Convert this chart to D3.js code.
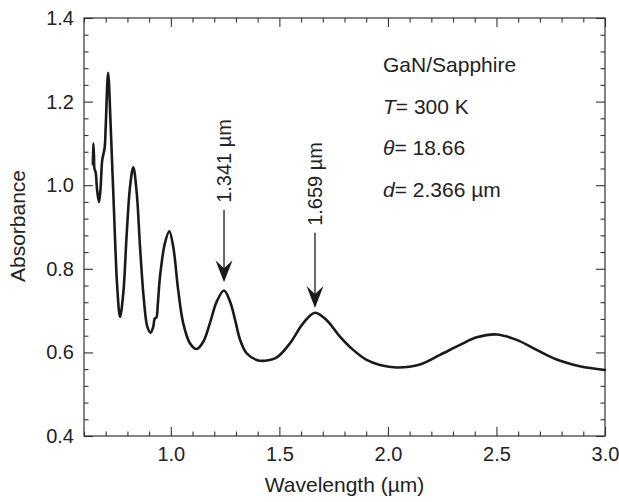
<!DOCTYPE html>
<html>
<head>
<meta charset="utf-8">
<script src="https://cdn.jsdelivr.net/npm/d3@7"></script>
<style>
  body { margin: 0; background: #fff; overflow: hidden; }
  svg { display: block; }
  text { font-family: "Liberation Sans", Arial, Helvetica, sans-serif; fill: #222; }
</style>
</head>
<body>
<div id="chart"></div>
<script>
// wavelength (um) and absorbance
var wavelength = [0.641, 0.643, 0.646, 0.648, 0.654, 0.660, 0.669, 0.676, 0.684, 0.695, 0.700, 0.711,
  0.723, 0.738, 0.753, 0.766, 0.781, 0.797, 0.812, 0.827, 0.843, 0.858, 0.876, 0.892, 0.907,
  0.919, 0.925, 0.929, 0.934, 0.940, 0.950, 0.973, 0.993, 1.011, 1.034, 1.057, 1.088, 1.119,
  1.150, 1.180, 1.211, 1.245, 1.273, 1.296, 1.319, 1.349, 1.395, 1.434, 1.488, 1.549, 1.610,
  1.664, 1.718, 1.779, 1.840, 1.902, 1.963, 2.040, 2.148, 2.240, 2.332, 2.409, 2.501, 2.593,
  2.685, 2.777, 2.884, 3.000];
var absorbance = [1.05, 1.10, 1.07, 1.04, 1.03, 0.99, 0.96, 0.99, 1.06, 1.089, 1.14, 1.269,
  1.14, 0.94, 0.757, 0.685, 0.742, 0.886, 0.996, 1.043, 0.981, 0.853, 0.725, 0.661, 0.647,
  0.661, 0.680, 0.682, 0.684, 0.715, 0.781, 0.862, 0.890, 0.853, 0.749, 0.670, 0.622, 0.608,
  0.626, 0.670, 0.721, 0.748, 0.721, 0.678, 0.630, 0.598, 0.582, 0.580, 0.588, 0.622, 0.670,
  0.695, 0.677, 0.638, 0.606, 0.582, 0.570, 0.564, 0.571, 0.594, 0.618, 0.636, 0.643, 0.630,
  0.606, 0.583, 0.567, 0.558];

var xMajor = [1.0, 1.5, 2.0, 2.5, 3.0];
var xMinor = [0.6, 0.7, 0.8, 0.9, 1.1, 1.2, 1.3, 1.4, 1.6, 1.7, 1.8, 1.9, 2.1, 2.2, 2.3, 2.4, 2.6, 2.7, 2.8, 2.9];
var yMajor = [0.4, 0.6, 0.8, 1.0, 1.2, 1.4];
var yMinor = [0.44, 0.48, 0.52, 0.56, 0.64, 0.68, 0.72, 0.76, 0.84, 0.88, 0.92, 0.96,
  1.04, 1.08, 1.12, 1.16, 1.24, 1.28, 1.32, 1.36];

// peak arrows: x, arrow tip, arrow tail, label
var arrowX = [1.245, 1.664];
var arrowTip = [0.768, 0.706];
var arrowTail = [0.941, 0.886];
var arrowLabel = ["1.341 \u00b5m", "1.659 \u00b5m"];

var infoLines = [
  [["GaN/Sapphire", false]],
  [["T", true], ["= 300 K", false]],
  [["\u03b8", true], ["= 18.66", false]],
  [["d", true], ["= 2.366 \u00b5m", false]]
];

var width = 619, height = 502,
  margin = {top: 18, right: 14, bottom: 66, left: 84},
  innerWidth = width - margin.left - margin.right,
  innerHeight = height - margin.top - margin.bottom;

var xScale = d3.scaleLinear().domain([0.6, 3.0]).range([0, innerWidth]);
var yScale = d3.scaleLinear().domain([0.4, 1.4]).range([innerHeight, 0]);

var svg = d3.select("#chart").append("svg")
  .attr("width", width)
  .attr("height", height);

var g = svg.append("g")
  .attr("transform", "translate(" + margin.left + "," + margin.top + ")");

var fmt = d3.format(".1f");
var tickFont = 20, labelFont = 21;

function styleAxis(sel) {
  sel.select(".domain").remove();
  sel.selectAll("line").attr("stroke", "#333").attr("stroke-width", 1.1);
  sel.selectAll("text").style("font-size", tickFont + "px").attr("fill", "#222");
}

// bottom axis
g.append("g").attr("transform", "translate(0," + innerHeight + ")")
  .call(d3.axisBottom(xScale).tickValues(xMajor).tickSize(-9).tickPadding(11).tickFormat(fmt))
  .call(styleAxis);
g.append("g").attr("transform", "translate(0," + innerHeight + ")")
  .call(d3.axisBottom(xScale).tickValues(xMinor).tickSize(-4.5).tickFormat(""))
  .call(styleAxis);
// top axis
g.append("g")
  .call(d3.axisTop(xScale).tickValues(xMajor).tickSize(-9).tickFormat(""))
  .call(styleAxis);
g.append("g")
  .call(d3.axisTop(xScale).tickValues(xMinor).tickSize(-4.5).tickFormat(""))
  .call(styleAxis);
// left axis
g.append("g")
  .call(d3.axisLeft(yScale).tickValues(yMajor).tickSize(-9).tickPadding(10).tickFormat(fmt))
  .call(styleAxis);
g.append("g")
  .call(d3.axisLeft(yScale).tickValues(yMinor).tickSize(-4.5).tickFormat(""))
  .call(styleAxis);
// right axis
g.append("g").attr("transform", "translate(" + innerWidth + ",0)")
  .call(d3.axisRight(yScale).tickValues(yMajor).tickSize(-9).tickFormat(""))
  .call(styleAxis);
g.append("g").attr("transform", "translate(" + innerWidth + ",0)")
  .call(d3.axisRight(yScale).tickValues(yMinor).tickSize(-4.5).tickFormat(""))
  .call(styleAxis);

// frame
g.append("rect")
  .attr("width", innerWidth)
  .attr("height", innerHeight)
  .attr("fill", "none")
  .attr("stroke", "#333")
  .attr("stroke-width", 1.2);

// curve
var data = wavelength.map(function(d, i) { return [d, absorbance[i]]; });
var line = d3.line()
  .x(function(d) { return xScale(d[0]); })
  .y(function(d) { return yScale(d[1]); })
  .curve(d3.curveCatmullRom.alpha(0.5));

g.append("path")
  .datum(data)
  .attr("fill", "none")
  .attr("stroke", "#1a1a1a")
  .attr("stroke-width", 2.6)
  .attr("stroke-linejoin", "round")
  .attr("stroke-linecap", "round")
  .attr("d", line);

// arrows
arrowX.forEach(function(x, i) {
  var px = xScale(x), tip = yScale(arrowTip[i]), tail = yScale(arrowTail[i]);
  g.append("line")
    .attr("x1", px).attr("x2", px)
    .attr("y1", tail).attr("y2", tip - 10)
    .attr("stroke", "#1a1a1a")
    .attr("stroke-width", 1.3);
  g.append("path")
    .attr("d", "M" + px + "," + tip + "L" + (px - 8.5) + "," + (tip - 22) +
      "L" + px + "," + (tip - 14) + "L" + (px + 8.5) + "," + (tip - 22) + "Z")
    .attr("fill", "#1a1a1a");
  g.append("text")
    .attr("transform", "translate(" + px + "," + (tail - 7) + ") rotate(-90)")
    .attr("dy", "0.36em")
    .style("font-size", tickFont + "px")
    .text(arrowLabel[i]);
});

// info block
var info = g.append("g").attr("transform", "translate(" + (383 - margin.left) + "," + (72 - margin.top) + ")");
infoLines.forEach(function(parts, i) {
  var t = info.append("text")
    .attr("y", i * 41.5)
    .style("font-size", labelFont + "px");
  parts.forEach(function(p) {
    t.append("tspan")
      .style("font-style", p[1] ? "italic" : "normal")
      .text(p[0]);
  });
});

// axis labels
svg.append("text")
  .attr("x", margin.left + innerWidth / 2)
  .attr("y", 492)
  .attr("text-anchor", "middle")
  .style("font-size", labelFont + "px")
  .text("Wavelength (\u00b5m)");

svg.append("text")
  .attr("transform", "translate(25,226) rotate(-90)")
  .attr("text-anchor", "middle")
  .style("font-size", labelFont + "px")
  .text("Absorbance");
</script>
</body>
</html>
